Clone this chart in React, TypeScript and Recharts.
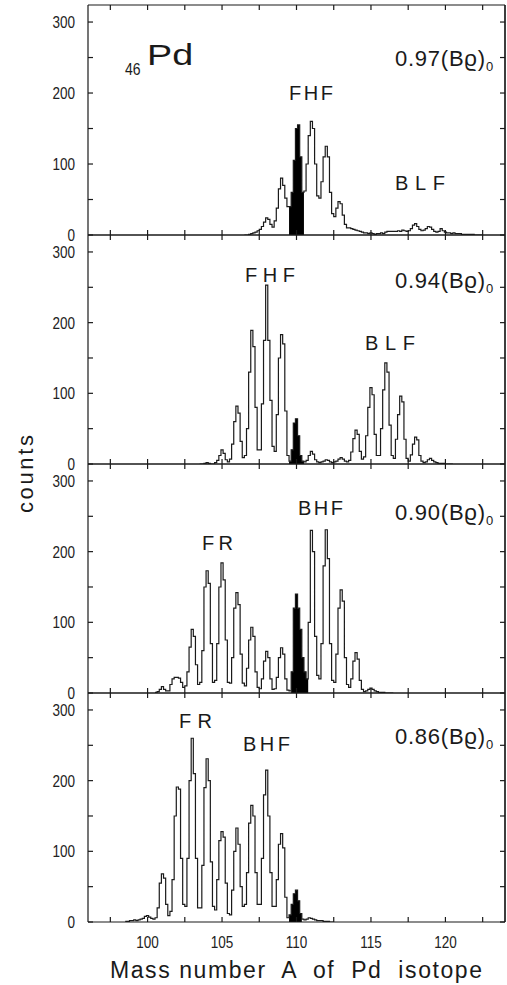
import React from 'react';
import { ComposedChart, Line, Area, XAxis, YAxis, ReferenceLine } from 'recharts';

const FONT = "'Liberation Sans', Arial, sans-serif";
const BIN = 1 / 7;
const X_TICKS = [97.5, 100, 102.5, 105, 107.5, 110, 112.5, 115, 117.5, 120, 122.5];
const Y_TICKS = [0, 50, 100, 150, 200, 250, 300];

// counts per bin (7 bins per mass unit), first bin begins at start*
// 0.97 (Bρ)0
const start097 = 106.5;
const counts097 = [
  0, 0, 1, 2, 3, 4, 6, // 107
  8, 12, 18, 24, 22, 15, 11, // 108
  20, 38, 65, 80, 70, 52, 40, // 109
  40, 60, 105, 150, 155, 110, 60, // 110
  62, 100, 140, 160, 150, 100, 55, // 111
  52, 75, 110, 125, 110, 60, 30, // 112
  26, 38, 47, 44, 28, 15, 10, // 113
  10, 9, 8, 7, 6, 5, 4, // 114
  3, 3, 2, 3, 2, 1, 2, // 115
  2, 3, 2, 4, 5, 5, 5, // 116
  5, 5, 6, 5, 7, 6, 5, // 117
  6, 9, 14, 16, 12, 8, 6, // 118
  7, 9, 12, 11, 8, 5, 4, // 119
  5, 9, 6, 4, 3, 3, 2, // 120
  3, 2, 2, 2, 1, 1, 1, // 121
  1, 1, 1, 0, 0, 0, 0, // 122
];
const black097 = [109.5, 110.5];

// 0.94 (Bρ)0
const start094 = 103.5;
const counts094 = [
  0, 0, 1, 2, 1, 0, 0, // 104
  2, 5, 12, 20, 15, 6, 3, // 105
  7, 28, 60, 82, 72, 32, 9, // 106
  12, 50, 130, 189, 166, 80, 20, // 107
  20, 85, 175, 253, 175, 90, 25, // 108
  18, 70, 150, 183, 170, 75, 12, // 109
  4, 20, 58, 64, 40, 12, 4, // 110
  3, 5, 12, 18, 14, 6, 3, // 111
  2, 3, 4, 6, 5, 3, 2, // 112
  3, 4, 7, 9, 7, 4, 3, // 113
  5, 17, 36, 48, 42, 18, 7, // 114
  10, 40, 80, 108, 98, 42, 12, // 115
  12, 50, 105, 143, 130, 55, 12, // 116
  8, 35, 70, 96, 88, 35, 8, // 117
  4, 13, 28, 38, 34, 12, 4, // 118
  2, 3, 6, 8, 5, 3, 2, // 119
  1, 1, 1, 0, 0, 0, 0, // 120
];
const black094 = [109.5, 110.5];

// 0.90 (Bρ)0
const start090 = 100.5;
const counts090 = [
  1, 2, 5, 9, 5, 3, 3, // 101
  12, 20, 22, 22, 21, 15, 8, // 102
  10, 30, 65, 90, 80, 40, 12, // 103
  15, 60, 150, 173, 155, 70, 15, // 104
  18, 70, 150, 184, 160, 75, 15, // 105
  14, 50, 120, 142, 125, 55, 14, // 106
  10, 35, 75, 93, 80, 30, 8, // 107
  6, 20, 45, 59, 50, 20, 5, // 108
  6, 22, 50, 64, 55, 20, 4, // 109
  3, 30, 120, 140, 120, 90, 50, // 110
  30, 20, 100, 230, 200, 80, 25, // 111
  20, 70, 180, 231, 190, 70, 18, // 112
  15, 55, 120, 146, 130, 50, 12, // 113
  8, 20, 45, 57, 48, 18, 5, // 114
  2, 3, 5, 7, 5, 3, 2, // 115
  1, 1, 1, 0, 0, 0, 0, // 116
];
const black090 = [109.64, 110.79];

// 0.86 (Bρ)0
const start086 = 98.5;
const counts086 = [
  1, 1, 2, 2, 3, 2, 3, // 99
  4, 5, 8, 9, 7, 5, 4, // 100
  6, 20, 55, 68, 62, 25, 9, // 101
  15, 60, 150, 191, 188, 90, 25, // 102
  22, 90, 200, 260, 210, 90, 20, // 103
  20, 80, 190, 231, 200, 85, 22, // 104
  17, 60, 115, 128, 120, 55, 12, // 105
  10, 45, 100, 133, 110, 50, 22, // 106
  25, 70, 140, 165, 150, 70, 25, // 107
  25, 90, 180, 215, 150, 70, 22, // 108
  22, 60, 110, 125, 105, 35, 6, // 109
  10, 25, 40, 45, 30, 12, 4, // 110
  3, 4, 6, 5, 4, 3, 2, // 111
  2, 2, 1, 1, 1, 0, 0, // 112
];
const black086 = [109.5, 110.36];

function buildRows(start: number, counts: number[], black: number[]) {
  const bs = Math.round((black[0] - start) / BIN);
  const be = Math.round((black[1] - start) / BIN);
  const rows: any[] = counts.map((c, i) => ({
    a: +(start + i * BIN).toFixed(4),
    c,
    f: i >= bs && i < be ? c : null,
  }));
  rows.push({ a: +(start + counts.length * BIN).toFixed(4), c: 0, f: null });
  rows[be].f = 0;
  return rows;
}

const INK = '#1a1a1a';
const PLOT_LEFT = 88;
const PLOT_RIGHT = 505;
const PLOT_TOP = 5;
const TICK = 5;

const LeftTick = (props: any) => {
  const { y, payload } = props;
  return (
    <g>
      <line x1={PLOT_LEFT} x2={PLOT_LEFT + TICK} y1={y} y2={y} stroke={INK} strokeWidth={1.2} />
      {payload.value % 100 === 0 && (
        <g transform={`translate(75,${y})`}>
          <text transform="scale(0.82,1)" dy={6} textAnchor="end" fontSize={16.5} fontFamily={FONT} fill="#222">
            {payload.value}
          </text>
        </g>
      )}
    </g>
  );
};

const RightTick = (props: any) => {
  const { y } = props;
  return <line x1={PLOT_RIGHT} x2={PLOT_RIGHT - TICK} y1={y} y2={y} stroke={INK} strokeWidth={1.2} />;
};

const TopTick = (props: any) => {
  const { x } = props;
  return <line x1={x} x2={x} y1={PLOT_TOP} y2={PLOT_TOP + TICK} stroke={INK} strokeWidth={1.2} />;
};

const BottomTick = (props: any) => {
  const { x, payload, bottom, showLabel } = props;
  return (
    <g>
      <line x1={x} x2={x} y1={bottom} y2={bottom - TICK} stroke={INK} strokeWidth={1.2} />
      {showLabel && payload.value % 5 === 0 && (
        <g transform={`translate(${x},${bottom + 26})`}>
          <text transform="scale(0.82,1)" textAnchor="middle" fontSize={16.5} fontFamily={FONT} fill="#222">
            {payload.value}
          </text>
        </g>
      )}
    </g>
  );
};

function Panel({ rows, top, height, last }: { rows: any[]; top: number; height: number; last?: boolean }) {
  const mb = last ? 59 : 10;
  const bottom = PLOT_TOP + height;
  return (
    <div style={{ position: 'absolute', left: 0, top: top - PLOT_TOP }}>
      <ComposedChart width={507} height={PLOT_TOP + height + 1 + mb} data={rows}
        margin={{ top: PLOT_TOP - 1, right: 0, left: 0, bottom: mb }}>
        <XAxis xAxisId="b" dataKey="a" type="number" domain={[96, 124]} ticks={X_TICKS} interval={0}
          orientation="bottom" height={1} tickLine={false} allowDataOverflow
          stroke={INK} strokeWidth={1.2} tick={<BottomTick bottom={bottom} showLabel={!!last} />} />
        <XAxis xAxisId="t" dataKey="a" type="number" domain={[96, 124]} ticks={X_TICKS} interval={0}
          orientation="top" height={1} tickLine={false} allowDataOverflow
          stroke={INK} strokeWidth={1.2} tick={<TopTick />} />
        <YAxis yAxisId="l" type="number" domain={[0, 324]} ticks={Y_TICKS} width={PLOT_LEFT} interval={0}
          tickLine={false} allowDataOverflow stroke={INK} strokeWidth={1.2} tick={<LeftTick />} />
        <YAxis yAxisId="r" type="number" orientation="right" domain={[0, 324]} ticks={Y_TICKS} width={507 - PLOT_RIGHT}
          interval={0} tickLine={false} allowDataOverflow stroke={INK} strokeWidth={1.2} tick={<RightTick />} />
        <ReferenceLine xAxisId="b" yAxisId="l" x={124} stroke={INK} strokeWidth={1.2} ifOverflow="visible" />
        <Line xAxisId="t" yAxisId="r" type="stepAfter" dataKey="c" stroke="none" dot={false}
          legendType="none" isAnimationActive={false} />
        <Area xAxisId="b" yAxisId="l" type="stepAfter" dataKey="f" fill="#000" fillOpacity={1}
          stroke="none" isAnimationActive={false} />
        <Line xAxisId="b" yAxisId="l" type="stepAfter" dataKey="c" stroke={INK} strokeWidth={1.2}
          dot={false} isAnimationActive={false} />
      </ComposedChart>
    </div>
  );
}

const label = { fontFamily: FONT, fill: INK } as const;

function Brho({ y, value }: { y: number; value: string }) {
  return (
    <>
      <text x={395} y={y} fontSize={22} textLength={90} lengthAdjust="spacing" {...label}>{value}(Bϱ)</text>
      <text x={486} y={y + 5} fontSize={13} {...label}>0</text>
    </>
  );
}

function Tag({ x, y, w, text }: { x: number; y: number; w: number; text: string }) {
  return <text x={x} y={y} fontSize={20} textLength={w} lengthAdjust="spacing" {...label}>{text}</text>;
}

export default function App() {
  return (
    <div style={{ position: 'absolute', left: 0, top: 0, width: 507, height: 985, background: '#fff' }}>
      <Panel rows={buildRows(start097, counts097, black097)} top={5} height={230} />
      <Panel rows={buildRows(start094, counts094, black094)} top={235} height={229} />
      <Panel rows={buildRows(start090, counts090, black090)} top={464} height={229} />
      <Panel rows={buildRows(start086, counts086, black086)} top={693} height={229} last />
      <svg width={507} height={985} style={{ position: 'absolute', left: 0, top: 0, pointerEvents: 'none' }}>
        <g transform="translate(147,65) scale(1.3,1)">
          <text fontSize={29} {...label}>Pd</text>
        </g>
        <g transform="translate(125,75) scale(0.85,1)">
          <text fontSize={16.5} {...label}>46</text>
        </g>
        <Brho y={66} value="0.97" />
        <Tag x={289} y={100} w={44} text="FHF" />
        <Tag x={395} y={190} w={50} text="BLF" />

        <Brho y={288} value="0.94" />
        <Tag x={245} y={282} w={50} text="FHF" />
        <Tag x={365} y={350} w={50} text="BLF" />

        <Brho y={520} value="0.90" />
        <Tag x={298} y={515} w={45} text="BHF" />
        <Tag x={202} y={550} w={31} text="FR" />

        <Brho y={744} value="0.86" />
        <Tag x={179} y={728} w={33} text="FR" />
        <Tag x={243} y={751} w={47} text="BHF" />

        <text transform="translate(33,474) rotate(-90)" textAnchor="middle" fontSize={22}
          textLength={78} lengthAdjust="spacing" {...label}>counts</text>
        <text x={110} y={978} fontSize={23} textLength={372} lengthAdjust="spacing"
          style={{ whiteSpace: 'pre' }} {...label}>Mass number  A  of  Pd  isotope</text>
      </svg>
    </div>
  );
}
